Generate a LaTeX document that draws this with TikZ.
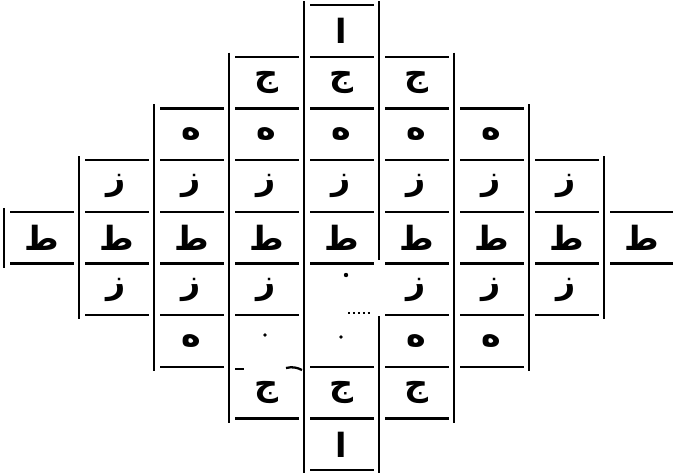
\documentclass[tikz,border=0pt]{standalone}
\usepackage{fontspec}
\newfontfamily\arabicfont[Script=Arabic]{DejaVu Sans}
\usetikzlibrary{calc}
% letter of each row, top to bottom
\newcommand{\harf}[1]{\ifcase#1 ا\or ج\or ه\or ز\or ط\or ز\or ه\or ج\or ا\fi}

\begin{document}
\begin{tikzpicture}[x=0.75pt,y=-0.75pt,
      rule/.style={black,line width=1.7pt},
      harfbox/.style={font=\arabicfont\bfseries\fontsize{25}{25}\selectfont,inner sep=0pt,anchor=center}]
    \useasboundingbox (0,0) rectangle (673,472);
    % rules of every column
    \foreach \c in {0,...,8}{
      \pgfmathtruncatemacro{\d}{abs(\c-4)}
      \pgfmathtruncatemacro{\e}{9-\d}
      \pgfmathsetmacro{\xl}{4+75*\c}
      \foreach \r in {\d,...,\e}{
        \ifnum\c=3 \ifnum\r=7 \else \draw[rule] ({\xl+6},{5+51.7*\r}) -- ({\xl+70},{5+51.7*\r}); \fi
        \else \ifnum\c=4 \ifnum\r=6 \else \draw[rule] ({\xl+6},{5+51.7*\r}) -- ({\xl+70},{5+51.7*\r}); \fi
        \else \draw[rule] ({\xl+6},{5+51.7*\r}) -- ({\xl+70},{5+51.7*\r}); \fi\fi
      }
    }
    % outer side of each column
    \foreach \c in {0,...,3}{
      \pgfmathtruncatemacro{\d}{4-\c}
      \draw[rule] ({4+75*\c},{1+51.7*\d}) -- ({4+75*\c},{9+51.7*(9-\d)});
    }
    \draw[rule] (304,1) -- (304,474);
    \draw[rule] (379,1) -- (379,260);
    \draw[rule] (379,316) -- (379,474);
    \foreach \c in {5,...,7}{
      \pgfmathtruncatemacro{\d}{\c-4}
      \draw[rule] ({4+75*(\c+1)},{1+51.7*\d}) -- ({4+75*(\c+1)},{9+51.7*(9-\d)});
    }
    % worn rules
    \draw[rule,dotted] (348,313) -- (370,313);
    \draw[rule] (235,369) -- (244,369);
    \draw[rule] (286,368) to[bend left=20] (302,370);
    % letters
    \foreach \c/\rows in {0/{4},1/{3,4,5},2/{2,3,4,5,6},3/{1,2,3,4,5,7},4/{0,1,2,3,4,7,8},
                          5/{1,2,3,4,5,6,7},6/{2,3,4,5,6},7/{3,4,5},8/{4}}{
      \foreach \r in \rows{
        \node[harfbox] (h-\c-\r) at ({41.5+75*\c},{31+51.7*\r}) {\harf{\r}};
      }
    }
    % worn letters
    \fill (346,275) circle (2.2);
    \fill (341,337) circle (1.8);
    \fill (265,335) circle (1.8);
  \end{tikzpicture}
\end{document}
